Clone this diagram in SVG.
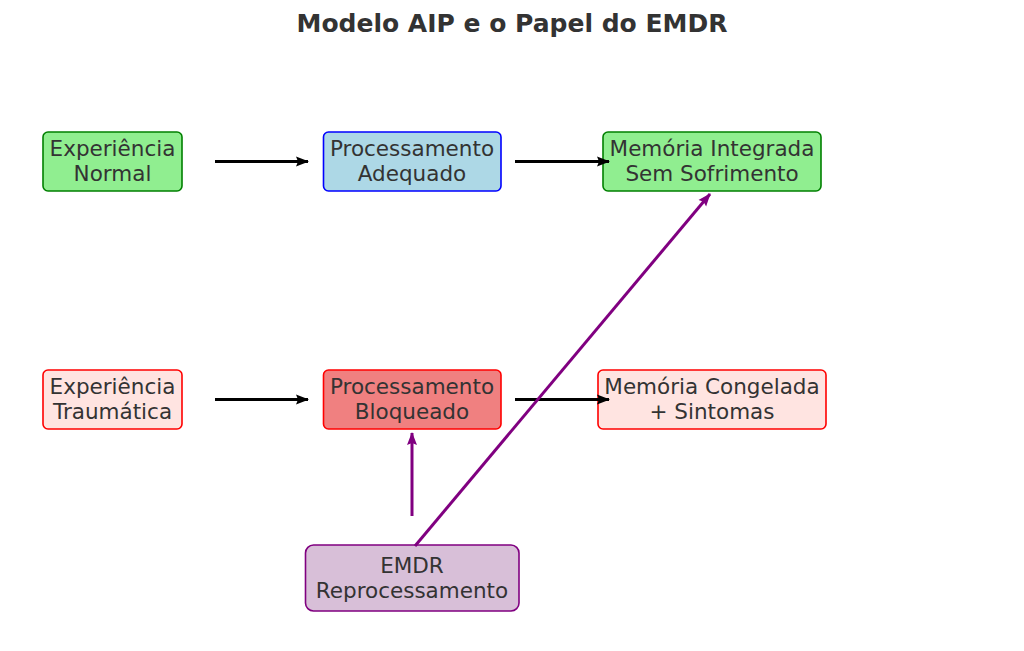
<svg xmlns="http://www.w3.org/2000/svg" width="1024" height="651" viewBox="0 0 1024 651">
<style>
.t{font-family:"DejaVu Sans",sans-serif;font-size:21.5px;fill:#333333;text-anchor:middle}
.title{font-family:"DejaVu Sans",sans-serif;font-size:25px;font-weight:bold;fill:#333333;text-anchor:middle}
rect{stroke-width:1.6}
.blk{stroke:#000;stroke-width:3;fill:none}
.pur{stroke:#800080;stroke-width:3;fill:none}
</style>
<defs>
<marker id="hb" viewBox="0 0 13 11" refX="12" refY="5.5" markerWidth="13" markerHeight="11" markerUnits="userSpaceOnUse" orient="auto"><path d="M0,0.5 L13,5.5 L0,10.5 L2,5.5 Z" fill="#000"/></marker>
<marker id="hp" viewBox="0 0 13 11" refX="12" refY="5.5" markerWidth="13" markerHeight="11" markerUnits="userSpaceOnUse" orient="auto"><path d="M0,0.5 L13,5.5 L0,10.5 L2,5.5 Z" fill="#800080"/></marker>
</defs>
<rect width="1024" height="651" fill="#fff" stroke="none"/>
<text class="title" x="512" y="32">Modelo AIP e o Papel do EMDR</text>
<g id="exp-normal">
<rect x="43" y="132" width="139" height="59" rx="5" fill="#90ee90" stroke="#008000"/>
<text class="t" x="112.5" y="156">Experiência</text>
<text class="t" x="112.5" y="180.5">Normal</text>
</g>
<g id="proc-adequado">
<rect x="323.5" y="132" width="177.5" height="59" rx="5" fill="#add8e6" stroke="#0000ff"/>
<text class="t" x="412" y="156">Processamento</text>
<text class="t" x="412" y="180.5">Adequado</text>
</g>
<g id="mem-integrada">
<rect x="603" y="132" width="218" height="59" rx="5" fill="#90ee90" stroke="#008000"/>
<text class="t" x="712" y="156">Memória Integrada</text>
<text class="t" x="712" y="180.5">Sem Sofrimento</text>
</g>
<g id="exp-traumatica">
<rect x="43" y="370" width="139" height="59" rx="5" fill="#ffe4e1" stroke="#ff0000"/>
<text class="t" x="112.5" y="394">Experiência</text>
<text class="t" x="112.5" y="418.5">Traumática</text>
</g>
<g id="proc-bloqueado">
<rect x="323.5" y="370" width="177.5" height="59" rx="5" fill="#f08080" stroke="#ff0000"/>
<text class="t" x="412" y="394">Processamento</text>
<text class="t" x="412" y="418.5">Bloqueado</text>
</g>
<g id="mem-congelada">
<rect x="598" y="370" width="228" height="59" rx="5" fill="#ffe4e1" stroke="#ff0000"/>
<text class="t" x="712" y="394">Memória Congelada</text>
<text class="t" x="712" y="418.5">+ Sintomas</text>
</g>
<g id="emdr">
<rect x="305.5" y="545" width="213.5" height="66" rx="8" fill="#d8bfd8" stroke="#800080"/>
<text class="t" x="412" y="573">EMDR</text>
<text class="t" x="412" y="597.5">Reprocessamento</text>
</g>
<g id="connectors">
<line class="blk" x1="215" y1="161.5" x2="308" y2="161.5" marker-end="url(#hb)"/>
<line class="blk" x1="515" y1="161.5" x2="609" y2="161.5" marker-end="url(#hb)"/>
<line class="blk" x1="215" y1="399.5" x2="308" y2="399.5" marker-end="url(#hb)"/>
<line class="blk" x1="515" y1="399.5" x2="609" y2="399.5" marker-end="url(#hb)"/>
<line class="pur" x1="412" y1="516" x2="412" y2="433" marker-end="url(#hp)"/>
<line class="pur" x1="415" y1="546" x2="710" y2="194" marker-end="url(#hp)"/>
</g>
</svg>
